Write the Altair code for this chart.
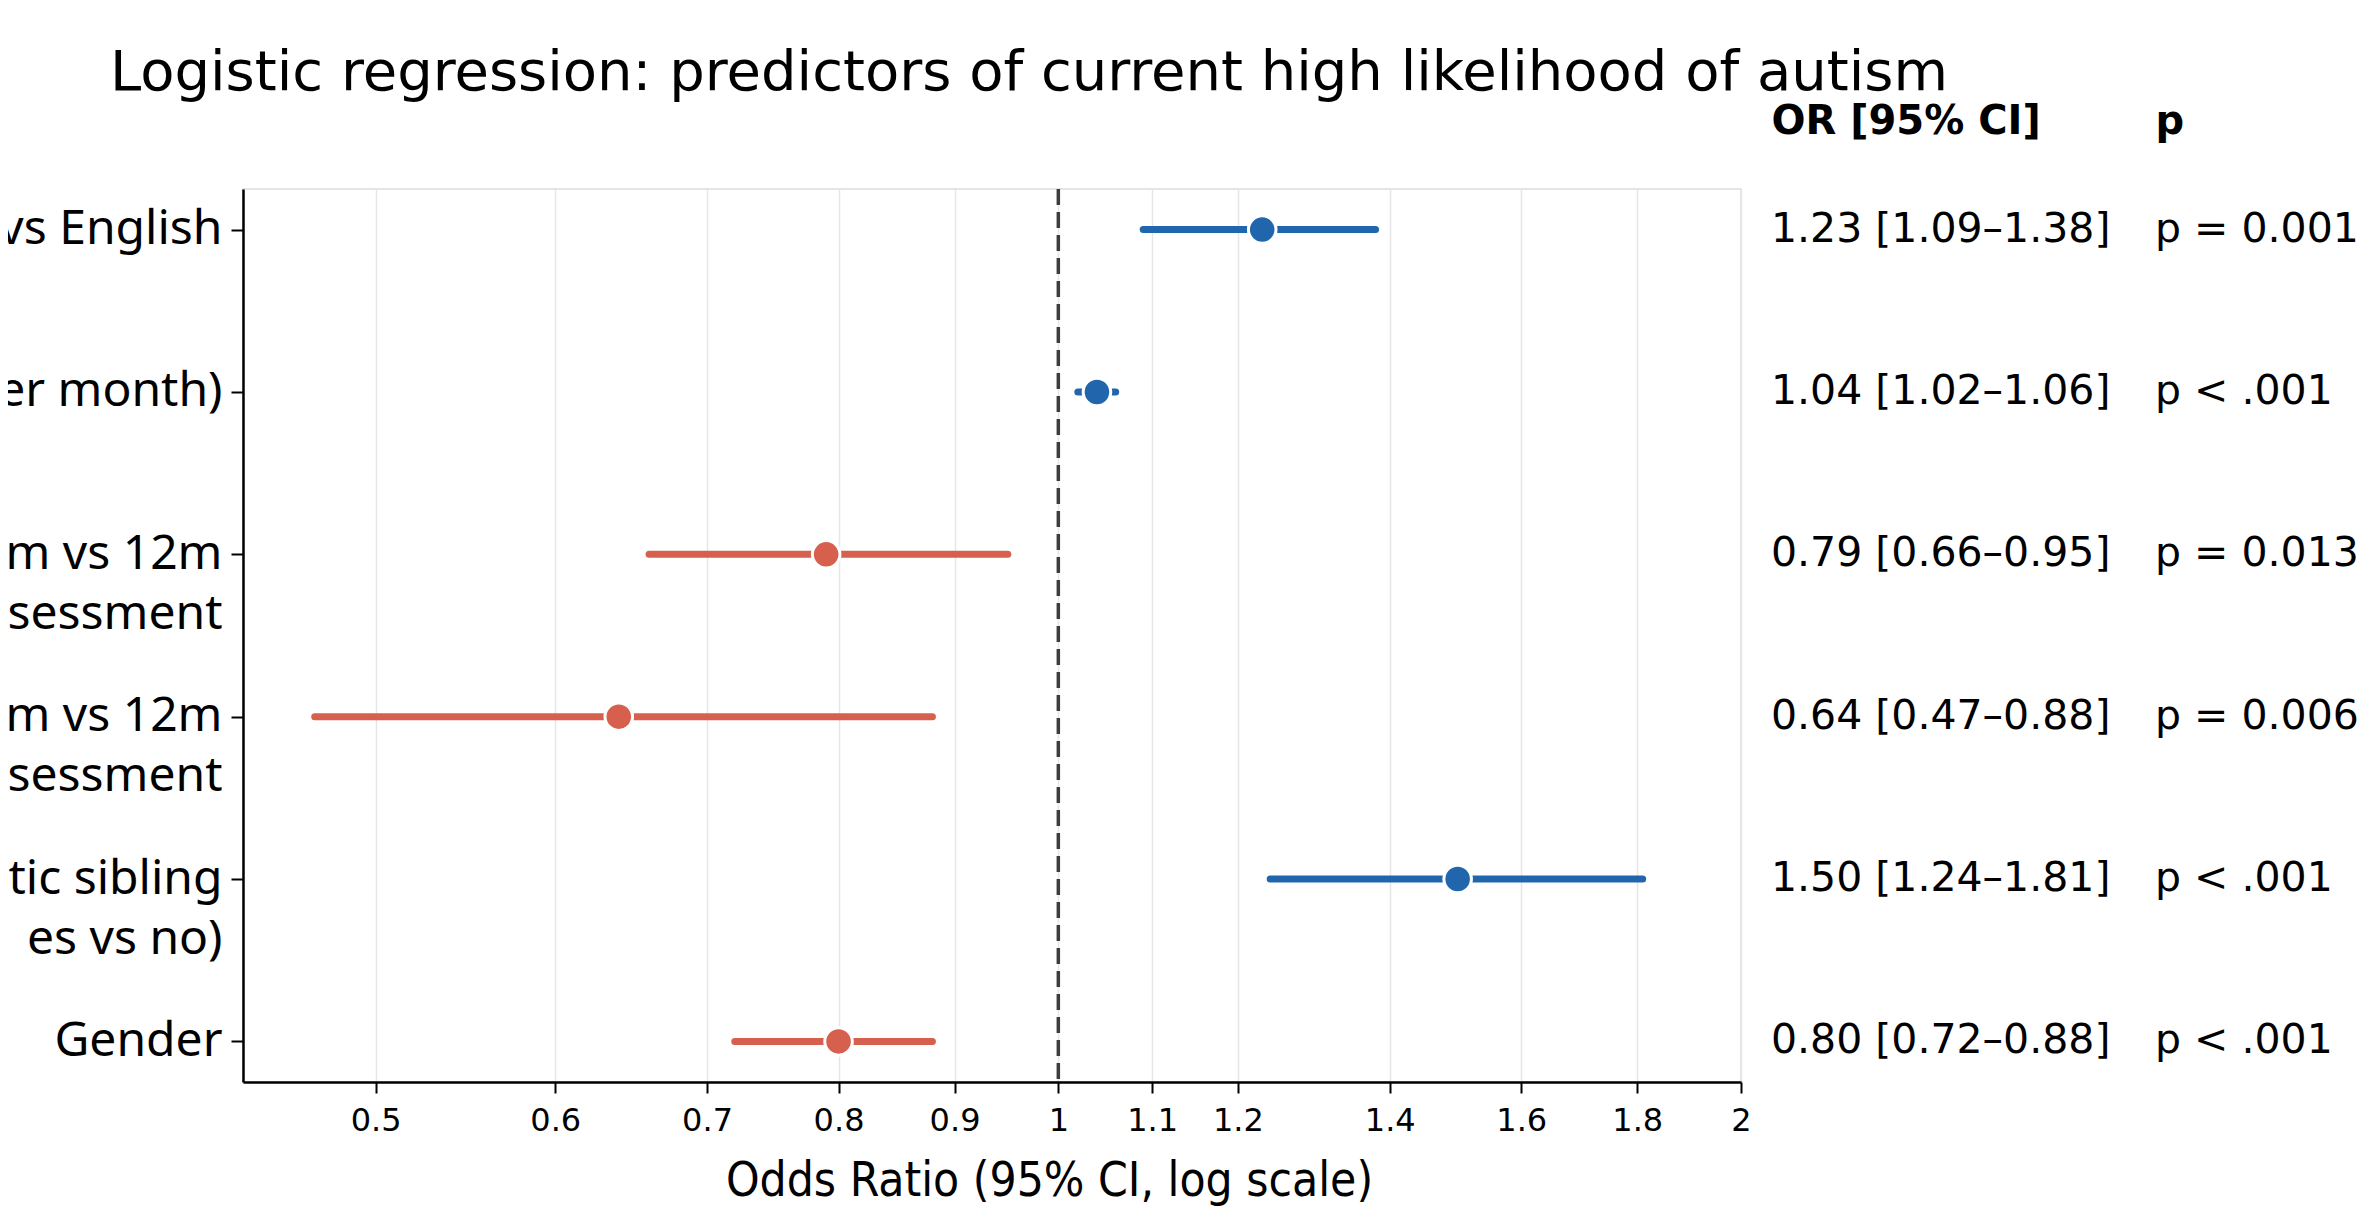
import altair as alt
import pandas as pd

# ---- data ----
rows = ["vs English", "er month)", "m vs 12m\nsessment", "-m vs 12m\nssessment",
        "stic sibling\nes vs no)", "Gender"]
odds = [1.23, 1.04, 0.79, 0.64, 1.50, 0.80]
ci_low = [1.09, 1.02, 0.66, 0.47, 1.24, 0.72]
ci_high = [1.38, 1.06, 0.95, 0.88, 1.81, 0.88]
p_labels = ["p = 0.001", "p < .001", "p = 0.013", "p = 0.006", "p < .001", "p < .001"]
tick_values = [0.5, 0.6, 0.7, 0.8, 0.9, 1, 1.1, 1.2, 1.4, 1.6, 1.8, 2]
columns = ["OR [95% CI]", "p"]
reference_or = [1.0]
x_domain = [0.437, 2.0]

df = pd.DataFrame({"row": rows, "or": odds, "lo": ci_low, "hi": ci_high})
df["dir"] = ["Higher" if v > 1 else "Lower" for v in odds]

ci_text = [f"{o:.2f} [{l:.2f}\u2013{h:.2f}]" for o, l, h in zip(odds, ci_low, ci_high)]
table = pd.DataFrame({
    "row": rows + rows,
    "col": [columns[0]] * len(rows) + [columns[1]] * len(rows),
    "txt": ci_text + p_labels,
})

NARROW = "DejaVu Sans Condensed, DejaVu Sans"

xscale = alt.Scale(type="log", domain=x_domain, nice=False)
xaxis = alt.Axis(values=tick_values, format="~g", grid=True, gridColor="#e6e6e6", gridWidth=1.5,
                 labelFont="DejaVu Sans", labelFontSize=32, labelColor="black", labelPadding=12,
                 labelFlush=False, labelBound=False, labelOverlap=False,
                 tickSize=11, tickWidth=2, tickColor="black",
                 domainColor="black", domainWidth=2.5,
                 titleFont=NARROW, titleFontSize=47.5, titleFontWeight="normal",
                 titleColor="black", titlePadding=21, titleX=806)
XTITLE = "Odds Ratio (95% CI, log scale)"

y_enc = alt.Y("row:N", sort=rows, title=None,
              scale=alt.Scale(type="point", padding=0.25),
              axis=alt.Axis(labelFont="Noto Sans", labelFontSize=48, labelLineHeight=60,
                            labelColor="black", labelExpr="split(datum.label, '\\n')",
                            labelLimit=2000, labelPadding=9, tickSize=12, tickWidth=2,
                            tickColor="black", domainColor="black", domainWidth=2.5,
                            grid=False))

color_enc = alt.Color("dir:N", scale=alt.Scale(domain=["Higher", "Lower"],
                                               range=["#2166ac", "#d6604d"]), legend=None)

ref = alt.Chart(pd.DataFrame({"ref": reference_or})).mark_rule(
    color="#3d3d3d", strokeDash=[16, 7], strokeWidth=3.5
).encode(x=alt.X("ref:Q", scale=xscale, axis=xaxis, title=XTITLE))

bars = alt.Chart(df).mark_rule(strokeWidth=7, strokeCap="round").encode(
    x=alt.X("lo:Q", scale=xscale, axis=xaxis, title=XTITLE),
    x2="hi:Q",
    y=y_enc,
    color=color_enc,
)

pts = alt.Chart(df).mark_point(filled=True, shape="circle", size=760, stroke="white",
                               strokeWidth=3, opacity=1).encode(
    x=alt.X("or:Q", scale=xscale, axis=xaxis, title=XTITLE),
    y=y_enc,
    color=color_enc,
)

plot = alt.layer(ref, bars, pts)

txt = alt.Chart(table).mark_text(align="left", baseline="middle", font="DejaVu Sans",
                                 fontSize=41, color="black").encode(
    x=alt.X("col:N", sort=columns, title=None,
            scale=alt.Scale(type="point", range=[1528, 1912], padding=0),
            axis=alt.Axis(orient="top", domain=False, ticks=False, tickSize=0, grid=False,
                          labelFont="DejaVu Sans", labelFontWeight="bold", labelFontSize=40,
                          labelColor="black", labelAlign="left", labelBaseline="alphabetic",
                          labelPadding=56, labelAngle=0, labelLimit=2000,
                          labelBound=False, labelFlush=False, labelOverlap=False)),
    y=y_enc,
    text="txt:N",
)

chart = alt.layer(plot, txt).resolve_scale(x="independent").properties(
    width=1498,
    height=893,
    autosize=alt.AutoSizeParams(type="none"),
    padding={"left": 235, "top": 181, "right": 620, "bottom": 132},
    title=alt.TitleParams(
        text="Logistic regression: predictors of current high likelihood of autism",
        font="DejaVu Sans", fontSize=56, fontWeight="normal", color="black",
        anchor="middle", frame="group", dx=37, baseline="alphabetic", offset=-45),
).configure_view(stroke="#dddddd", strokeWidth=1.5)

chart.save("out.html", embed_options={"renderer": "svg", "actions": False})
